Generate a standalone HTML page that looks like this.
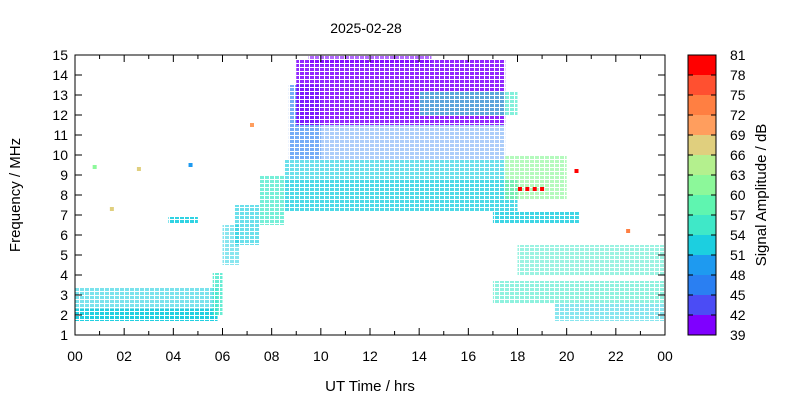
<!DOCTYPE html>
<html><head><meta charset="utf-8"><style>
body{margin:0;background:#fff}
svg{display:block;font-family:"Liberation Sans",sans-serif}
</style></head><body>
<svg id="chart" width="800" height="400">
<text x="366" y="33" font-size="14" text-anchor="middle">2025-02-28</text>
<g id="marks"></g>
<rect x="75" y="55" width="590" height="280" fill="none" stroke="#000"/>
<g id="axes"></g>
<g id="cbar"></g>
<text transform="translate(20,195) rotate(-90)" font-size="15" text-anchor="middle">Frequency / MHz</text>
<text x="370" y="391" font-size="15" text-anchor="middle">UT Time / hrs</text>
<text transform="translate(766,195) rotate(-90)" font-size="15" text-anchor="middle">Signal Amplitude / dB</text>
</svg>
<script>
const xTickLabels=["00","02","04","06","08","10","12","14","16","18","20","22","00"];
const yTickLabels=[1,2,3,4,5,6,7,8,9,10,11,12,13,14,15];
const cbarLabels=[39,42,45,48,51,54,57,60,63,66,69,72,75,78,81];
const cbarColors=["#7f00ff","#4b4cf5","#2a7ff2","#1e9af0","#1ccfe0","#3fe8c8","#5ff5b0","#8cf89a","#b4f08e","#e0cf7e","#ff9e5e","#ff7f42","#ff5030","#ff0000"];
const regionStart=[0,0,5.6,6.0,6.5,7.5,8.5,8.5,8.7,10,9.0,14,17.5,17,18,17,19.5,9.5,3.8];
const regionEnd=[5.8,5.8,6.0,6.7,7.5,8.5,18,17.5,10,17.5,17.5,18,20,20.5,24,24,24,14.5,5.0];
const regionLow=[1.7,2.3,2.0,4.5,5.5,6.5,7.2,8.8,9.8,9.8,11.5,12.0,7.8,6.6,4.0,2.6,1.7,14.5,6.6];
const regionHigh=[2.3,3.4,4.1,6.5,7.5,9.0,8.8,9.8,13.5,11.5,14.8,13.2,10,7.2,5.5,3.7,2.6,15,6.9];
const regionAmp=[51,53,55,51,52,54,52,51,46,45,40,55,60,53,54,54,53,40,52];
const regionDensity=[0.75,0.45,0.6,0.4,0.5,0.55,0.6,0.5,0.5,0.3,0.65,0.5,0.5,0.65,0.4,0.45,0.4,0.45,0.7];
const spotTime=[18.1,18.4,18.7,19.0,20.4,0.8,1.5,2.6,4.7,7.2,22.5];
const spotFreq=[8.3,8.3,8.3,8.3,9.2,9.4,7.3,9.3,9.5,11.5,6.2];
const spotAmp=[80,80,80,80,78,60,66,66,50,69,72];

const NS="http://www.w3.org/2000/svg";
const x=t=>75+t*590/24, y=f=>335-(f-1)*20;
const colorOf=a=>cbarColors[Math.max(0,Math.min(13,Math.floor((a-39)/3)))];
const svg=document.getElementById('chart');
const defs=document.createElementNS(NS,'defs');svg.insertBefore(defs,svg.firstChild);
cbarColors.forEach((c,i)=>{
  const p=document.createElementNS(NS,'pattern');
  p.setAttribute('id','pat'+i);p.setAttribute('width','5');p.setAttribute('height','4');p.setAttribute('patternUnits','userSpaceOnUse');
  const r=document.createElementNS(NS,'rect');r.setAttribute('width','4');r.setAttribute('height','3');r.setAttribute('fill',c);
  p.appendChild(r);defs.appendChild(p);
});
const marks=document.getElementById('marks');
regionStart.forEach((s,i)=>{
  const r=document.createElementNS(NS,'rect');
  
  
  const idx=Math.max(0,Math.min(13,Math.floor((regionAmp[i]-39)/3)));
  r.setAttribute('x',x(s));r.setAttribute('width',x(regionEnd[i])-x(s));
  r.setAttribute('y',y(regionHigh[i]));r.setAttribute('height',y(regionLow[i])-y(regionHigh[i]));
  r.setAttribute('fill','url(#pat'+idx+')');r.setAttribute('opacity',Math.min(1,regionDensity[i]*1.3));
  marks.appendChild(r);
});
spotTime.forEach((t,i)=>{
  const r=document.createElementNS(NS,'rect');
  
  
  r.setAttribute('x',x(t)-2);r.setAttribute('y',y(spotFreq[i])-2);r.setAttribute('width',4);r.setAttribute('height',4);
  r.setAttribute('fill',colorOf(spotAmp[i]));marks.appendChild(r);
});
const ax=document.getElementById('axes');
function line(g,x1,y1,x2,y2){const l=document.createElementNS(NS,'line');l.setAttribute('x1',x1);l.setAttribute('y1',y1);l.setAttribute('x2',x2);l.setAttribute('y2',y2);l.setAttribute('stroke','#000');g.appendChild(l);}
function text(g,tx,ty,s,anchor,name){const t=document.createElementNS(NS,'text');t.setAttribute('x',tx);t.setAttribute('y',ty);t.setAttribute('font-size','14');t.setAttribute('text-anchor',anchor);t.textContent=s;


g.appendChild(t);}
for(let h=0;h<=24;h++){const len=h%2?4:7;line(ax,x(h),335,x(h),335-len);line(ax,x(h),55,x(h),55+len);}
xTickLabels.forEach((s,i)=>text(ax,x(i*2),361,s,'middle','x-tick-label'));
yTickLabels.forEach(f=>{line(ax,75,y(f),82,y(f));line(ax,665,y(f),658,y(f));text(ax,68,y(f)+5,String(f),'end','y-tick-label');});
const cb=document.getElementById('cbar');
cbarColors.forEach((c,i)=>{const r=document.createElementNS(NS,'rect');


r.setAttribute('x',688);r.setAttribute('y',335-(i+1)*20);r.setAttribute('width',28);r.setAttribute('height',20);r.setAttribute('fill',c);cb.appendChild(r);});
const fr=document.createElementNS(NS,'rect');fr.setAttribute('x',688);fr.setAttribute('y',55);fr.setAttribute('width',28);fr.setAttribute('height',280);fr.setAttribute('fill','none');fr.setAttribute('stroke','#000');cb.appendChild(fr);
cbarLabels.forEach((v,i)=>{const yy=335-i*20;line(cb,716,yy,711,yy);line(cb,688,yy,693,yy);text(cb,730,yy+5,String(v),'start','colorbar-tick-label');});
</script>
</body></html>
